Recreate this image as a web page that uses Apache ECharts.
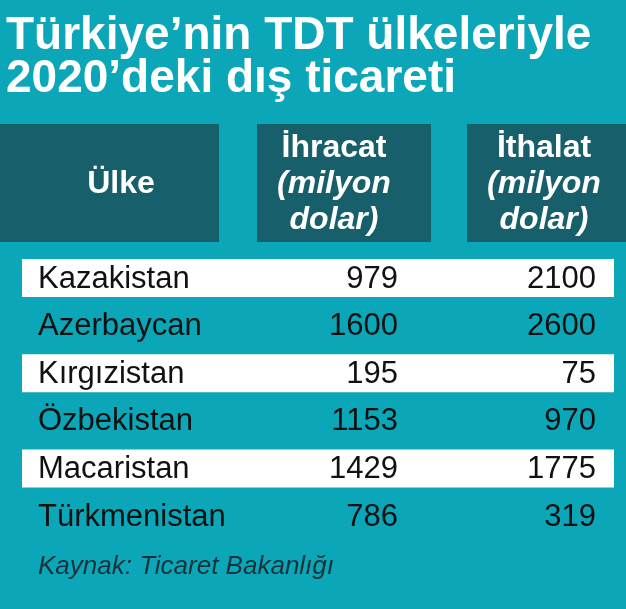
<!DOCTYPE html>
<html><head><meta charset="utf-8">
<script src="https://cdn.jsdelivr.net/npm/echarts@6/dist/echarts.min.js"></script>
<style>html,body{margin:0;padding:0;background:#0ba7b8}#c{width:626px;height:609px}</style>
</head><body><div id="c"></div>
<script>
const titleLines = ["Türkiye’nin TDT ülkeleriyle", "2020’deki dış ticareti"];
const headers = ["Ülke", "İhracat\n(milyon\ndolar)", "İthalat\n(milyon\ndolar)"];
const countries = ["Kazakistan","Azerbaycan","Kırgızistan","Özbekistan","Macaristan","Türkmenistan"];
const exportsVals = [979,1600,195,1153,1429,786];
const importsVals = [2100,2600,75,970,1775,319];
const source = "Kaynak: Ticaret Bakanlığı";

const chart = echarts.init(document.getElementById('c'));
const F = '"Liberation Sans", Arial, sans-serif';
const g = [];
g.push({type:'rect',shape:{x:0,y:0,width:626,height:609},style:{fill:'#0ba7b8'}});
titleLines.forEach((t,i)=>g.push({type:'text',x:6,y:36+i*43,style:{text:t,fill:'#fff',font:'bold 46px '+F,verticalAlign:'middle'}}));
const boxes=[[0,219],[257,431],[467,626]];
boxes.forEach((b,i)=>{
  g.push({type:'rect',shape:{x:b[0],y:124,width:b[1]-b[0],height:118},style:{fill:'#17606b'}});
});
g.push({type:'text',x:121,y:184,style:{text:headers[0],fill:'#fff',font:'bold 32px '+F,align:'center',verticalAlign:'middle'}});
[1,2].forEach(k=>{
  const lines=headers[k].split('\n');
  const cx=k===1?334:544;
  lines.forEach((l,j)=>g.push({type:'text',x:cx,y:148+j*36,style:{text:l,fill:'#fff',font:(j===0?'bold ':'italic bold ')+'32px '+F,align:'center',verticalAlign:'middle'}}));
});
countries.forEach((c,i)=>{
  const cy=278+i*47.6;
  if(i%2===0) g.push({type:'rect',shape:{x:22,y:cy-19,width:592,height:38},style:{fill:'#fff'}});
  g.push({type:'text',x:38,y:cy+1,style:{text:c,fill:'#111',font:'31px '+F,verticalAlign:'middle'}});
  g.push({type:'text',x:398,y:cy+1,style:{text:String(exportsVals[i]),fill:'#111',font:'31px '+F,align:'right',verticalAlign:'middle'}});
  g.push({type:'text',x:596,y:cy+1,style:{text:String(importsVals[i]),fill:'#111',font:'31px '+F,align:'right',verticalAlign:'middle'}});
});
g.push({type:'text',x:38,y:567,style:{text:source,fill:'#17323a',font:'italic 26px '+F,verticalAlign:'middle'}});
chart.setOption({animation:false,graphic:g});
</script></body></html>
